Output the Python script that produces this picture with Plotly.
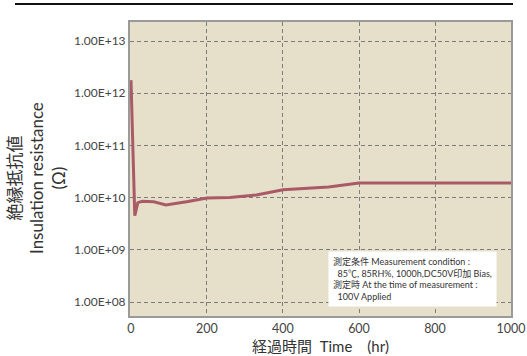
import plotly.graph_objects as go

# Insulation resistance over time (hours, ohms)
time_hr = [0, 10, 18, 30, 60, 78, 92, 150, 200, 260, 330, 400, 470, 520, 600, 700, 800, 900, 1000]
resistance_ohm = [1.78e12, 4.5e9, 8.0e9, 8.5e9, 8.3e9, 7.6e9, 7.2e9, 8.4e9, 9.8e9, 1.0e10, 1.12e10,
                  1.42e10, 1.52e10, 1.6e10, 1.9e10, 1.9e10, 1.9e10, 1.9e10, 1.9e10]

x_ticks = [0, 200, 400, 600, 800, 1000]
y_ticks = [1e8, 1e9, 1e10, 1e11, 1e12, 1e13]
y_tick_text = ["1.00E+08", "1.00E+09", "1.00E+10", "1.00E+11", "1.00E+12", "1.00E+13"]

FONT = "Lato, 'Noto Sans CJK JP', sans-serif"

# plot area in pixels
L, R, T, B = 130, 511, 22, 316
W, H = 527, 356
PW, PH = R - L, B - T

fig = go.Figure()
fig.add_trace(go.Scatter(
    x=time_hr, y=resistance_ohm, mode="lines",
    line=dict(color="#a95a66", width=3),
    hoverinfo="skip", showlegend=False,
))

fig.update_layout(
    width=W, height=H,
    margin=dict(l=L, r=W - R, t=T, b=H - B),
    paper_bgcolor="white",
    plot_bgcolor="#e6e0ca",
    font=dict(family=FONT, color="#444444", size=12),
    xaxis=dict(
        range=[-2.6, 1000], tickvals=x_ticks, automargin=False,
        showgrid=True, gridcolor="#7c7c7c", gridwidth=1, griddash="4px,3px",
        showline=True, linecolor="#9a9a9a", linewidth=2, mirror=True,
        zeroline=False, ticks="", ticklen=0,
        tickfont=dict(size=12.5, color="#444444"),
    ),
    yaxis=dict(
        type="log", range=[7.732, 13.364], automargin=False,
        tickvals=y_ticks, ticktext=y_tick_text,
        showgrid=True, gridcolor="#7c7c7c", gridwidth=1, griddash="4px,3px",
        showline=True, linecolor="#9a9a9a", linewidth=2, mirror=True,
        zeroline=False, ticks="", ticklen=0,
        tickfont=dict(size=12, color="#444444"),
    ),
    shapes=[
        # rule across the top of the page
        dict(type="line", xref="paper", yref="paper",
             x0=(15 - L) / PW, x1=(513 - L) / PW,
             y0=1 + (T - 4) / PH, y1=1 + (T - 4) / PH,
             line=dict(color="#111111", width=2)),
    ],
    annotations=[
        # y-axis title
        dict(xref="paper", yref="paper", x=(37 - L) / PW, y=(B - 178) / PH,
             xanchor="center", yanchor="middle", textangle=-90, showarrow=False,
             align="center", font=dict(size=17, color="#333333"),
             text="絶縁抵抗値<br>Insulation resistance<br>(Ω)"),
        # x-axis title
        dict(xref="paper", yref="paper", x=(320 - L) / PW, y=-(346 - B) / PH,
             xanchor="center", yanchor="middle", showarrow=False,
             font=dict(size=15, color="#333333"),
             text="経過時間  Time　(hr)"),
        # measurement conditions box
        dict(
            xref="paper", yref="paper", x=(497 - L) / PW, y=(B - 307) / PH,
            xanchor="right", yanchor="bottom",
            align="left", showarrow=False,
            bgcolor="white", borderpad=4,
            font=dict(size=9, color="#333333"),
            text=("測定条件 Measurement condition :<br>"
                  "  85℃, 85RH%, 1000h,DC50V印加 Bias,<br>"
                  "測定時 At the time of measurement :<br>"
                  "  100V Applied"),
        ),
    ],
)

fig.write_html("out.html")
